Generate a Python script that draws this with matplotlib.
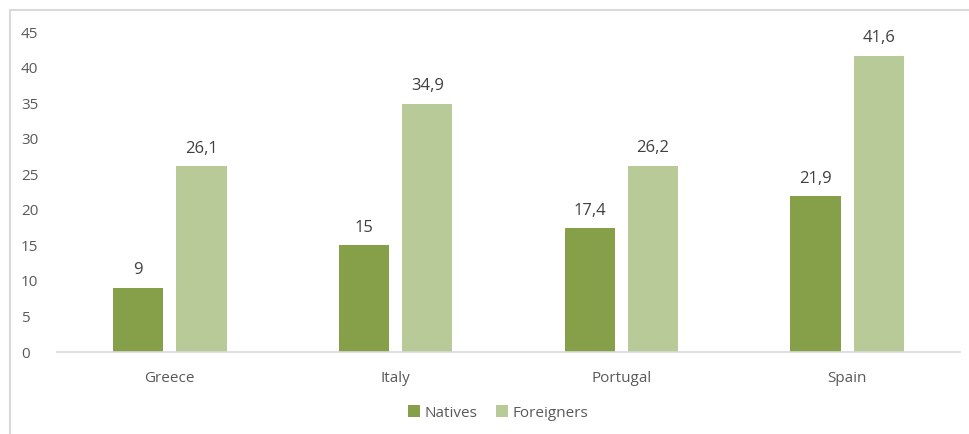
import matplotlib
matplotlib.use("Agg")
import matplotlib.pyplot as plt
import numpy as np
from matplotlib.patches import Rectangle

countries = ["Greece", "Italy", "Portugal", "Spain"]
natives = [9, 15, 17.4, 21.9]
foreigners = [26.1, 34.9, 26.2, 41.6]
series_names = ["Natives", "Foreigners"]
yticks = [0, 5, 10, 15, 20, 25, 30, 35, 40, 45]

c_nat = "#86A04A"
c_for = "#B8CA98"
txt = "#595959"

plt.rcParams["font.family"] = ["Open Sans", "DejaVu Sans"]

fig = plt.figure(figsize=(9.70, 4.34), dpi=100)
# light border
fig.patches.append(Rectangle((10/970, -0.1), 1.2, (434-10)/434 + 0.1, transform=fig.transFigure,
                             fill=False, edgecolor="#D9D9D9", linewidth=1.5))
ax = fig.add_axes([57/970, 1-352/434, (960-57)/970, 320/434])

x = np.arange(len(countries))
w = 0.222
off = 0.14
b1 = ax.bar(x - off, natives, w, color=c_nat, label=series_names[0])
b2 = ax.bar(x + off, foreigners, w, color=c_for, label=series_names[1])

def fmt(v):
    s = f"{v:g}"
    return s.replace(".", ",")

for bars, vals in ((b1, natives), (b2, foreigners)):
    for r, v in zip(bars, vals):
        ax.annotate(fmt(v), (r.get_x() + r.get_width()/2, v), xytext=(0, 7),
                    textcoords="offset points", ha="center", va="bottom",
                    fontsize=12, color="#404040")

ax.set_xlim(-0.5, 3.5)
ax.set_ylim(0, 45)
ax.set_yticks(yticks)
ax.set_xticks(x)
ax.set_xticklabels(countries)
ax.tick_params(axis="both", length=0, colors=txt, labelsize=11)
ax.tick_params(axis="x", pad=14)
ax.tick_params(axis="y", pad=26)
for t in ax.get_yticklabels():
    t.set_horizontalalignment("left")
for s in ["top", "right", "left"]:
    ax.spines[s].set_visible(False)
ax.spines["bottom"].set_color("#D9D9D9")
ax.spines["bottom"].set_linewidth(1.2)

leg = fig.legend(handles=[b1, b2], labels=series_names, loc="center",
                 bbox_to_anchor=(498/970, 1-413/434), ncol=2, frameon=False,
                 fontsize=11, handlelength=0.8, handleheight=0.8,
                 handletextpad=0.3, columnspacing=1.2)
for t in leg.get_texts():
    t.set_color(txt)

fig.savefig("out.png", dpi=100)
